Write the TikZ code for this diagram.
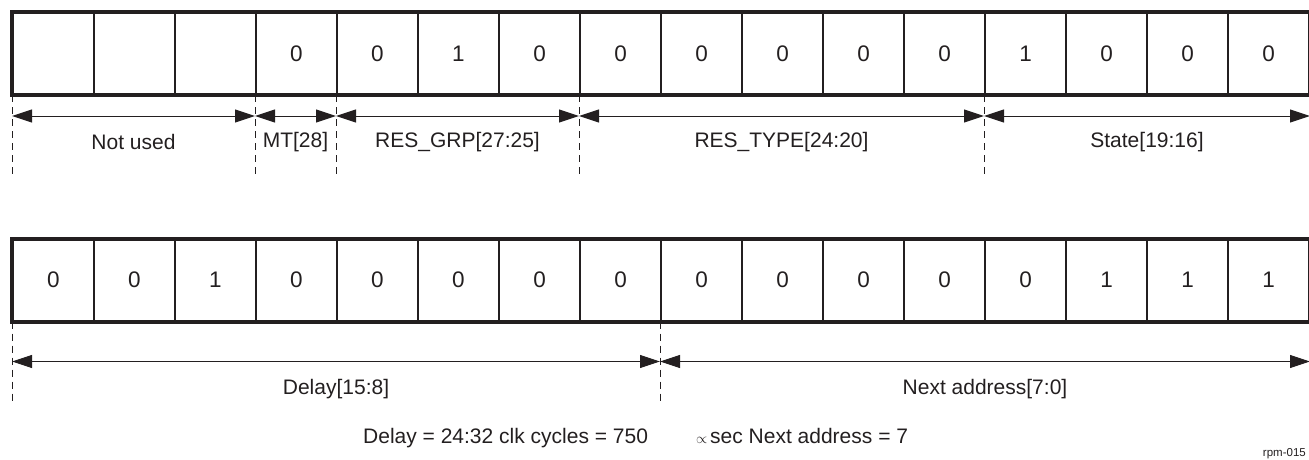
\documentclass[tikz,border=0pt]{standalone}
\usepackage{fontspec}
\setmainfont{Liberation Sans}
\usetikzlibrary{arrows.meta}
\definecolor{ink}{HTML}{231F20}

\begin{document}
\begin{tikzpicture}[x=1pt, y=-1pt,
    cell/.style={draw=ink, line width=2pt, minimum width=81pt, minimum height=81pt,
        anchor=north west, inner sep=0pt, text=ink, font=\fontsize{22.5}{26}\selectfont},
    span/.style={ink, line width=1pt, {Triangle[length=20pt,width=13pt]}-{Triangle[length=20pt,width=13pt]}},
    guide/.style={ink, line width=0.9pt, dash pattern=on 7pt off 5pt},
    lbl/.style={text=ink, font=\fontsize{21}{24}\selectfont}]
    \useasboundingbox (0,0) rectangle (1309,460);

    % Pirmasis žodis
    \foreach \v [count=\i from 0] in {{},{},{},0,0,1,0,0,0,0,0,0,1,0,0,0}
        \node[cell] (top\i) at (12+81*\i, 12) {\v};
    \draw[ink, line width=4pt] (top0.north west) rectangle (top15.south east);

    % Antrasis žodis
    \foreach \v [count=\i from 0] in {0,0,1,0,0,0,0,0,0,0,0,0,0,1,1,1}
        \node[cell] (bot\i) at (12+81*\i, 238.5) {\v};
    \draw[ink, line width=4pt] (bot0.north west) rectangle (bot15.south east);

    % Laukų ribos (viršus)
    \foreach \n [count=\k] in {0,3,4,7,12} {
        \draw[guide] (top\n.south west) -- ++(0,83);
        \path (top\n.south west) ++(0,21) coordinate (p\k);
    }
    \draw[guide] (top15.south east) -- ++(0,83);
    \path (top15.south east) ++(0,21) coordinate (p6);

    % Laukų ribos (apačia)
    \foreach \n [count=\k] in {0,8} {
        \draw[guide] (bot\n.south west) -- ++(0,81);
        \path (bot\n.south west) ++(0,40) coordinate (q\k);
    }
    \draw[guide] (bot15.south east) -- ++(0,81);
    \path (bot15.south east) ++(0,40) coordinate (q3);

    % Laukų pavadinimai
    \draw[span] (p1) -- (p2) node[lbl, midway, yshift=-26pt] (notused) {Not used};
    \draw[span] (p2) -- (p3) node[lbl, midway, yshift=-26pt] (mt) {MT[28]};
    \draw[span] (p3) -- (p4) node[lbl, midway, yshift=-26pt] (resgrp) {RES\_GRP[27:25]};
    \draw[span] (p4) -- (p5) node[lbl, midway, yshift=-26pt] (restype) {RES\_TYPE[24:20]};
    \draw[span] (p5) -- (p6) node[lbl, midway, yshift=-26pt] (state) {State[19:16]};
    \draw[span] (q1) -- (q2) node[lbl, midway, yshift=-28pt] (delay) {Delay[15:8]};
    \draw[span] (q2) -- (q3) node[lbl, midway, yshift=-28pt] (next) {Next address[7:0]};

    % Pastaba
    \node[lbl, inner sep=0pt, anchor=base west] (note) at (363,443) {Delay = 24:32 clk cycles = 750};
    \node[text=ink, inner sep=0pt, anchor=base west] (prop) at (696,443.5) {\fontsize{15}{17}\selectfont$\propto$};
    \node[lbl, inner sep=0pt, anchor=base west] (note2) at (710,443) {sec Next address = 7};
    \node[text=ink, inner sep=0pt, anchor=base east, font=\fontsize{11.5}{13}\selectfont] (tag) at (1306,456) {rpm-015};
\end{tikzpicture}
\end{document}
